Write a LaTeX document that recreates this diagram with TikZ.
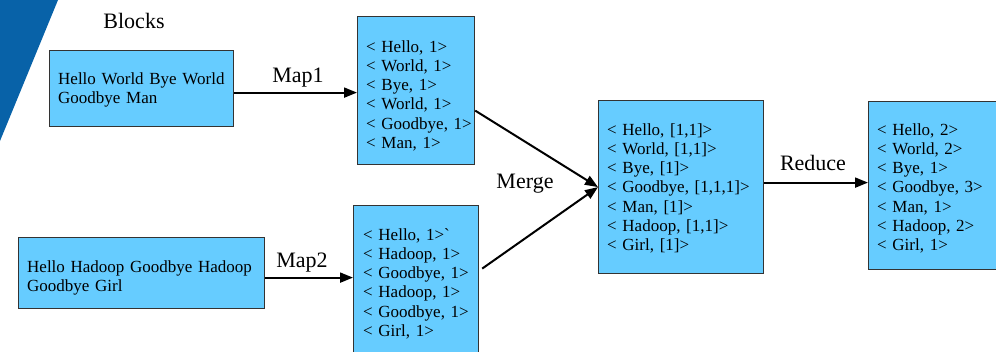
\documentclass[tikz,border=0pt]{standalone}
\usepackage{fontspec}
\setmainfont{Liberation Serif}
\usetikzlibrary{arrows.meta}
\definecolor{boxblue}{HTML}{66CCFF}
\definecolor{deco}{HTML}{0862A8}
\definecolor{edge}{HTML}{333333}
\tikzset{
  box/.style={draw=edge, line width=1.2pt, fill=boxblue, anchor=north west, inner sep=0pt},
  boxtext/.style={anchor=base west, inner sep=0pt, align=left, text width=300pt, font=\fontsize{17}{19.3}\selectfont},
  lbl/.style={font=\fontsize{22}{26}\selectfont, inner sep=0pt, anchor=base},
  arr/.style={line width=2pt, -{Triangle[length=13pt,width=10pt]}}
}
\begin{document}
\begin{tikzpicture}[x=1pt,y=-1pt]
\useasboundingbox (0,0) rectangle (996,351);
\clip (0,0) rectangle (996,351);
\fill[deco] (0,0) -- (58,0) -- (0,141) -- cycle;
% boxes
\node[box, minimum width=184pt, minimum height=76pt] (b1) at (49,50) {};
\node[box, minimum width=117pt, minimum height=148pt] (b2) at (357,16) {};
\node[box, minimum width=246pt, minimum height=71pt] (b3) at (18,237) {};
\node[box, minimum width=125pt, minimum height=160pt] (b4) at (353,205) {};
\node[box, minimum width=165pt, minimum height=173pt] (b5) at (598,100) {};
\node[box, minimum width=140pt, minimum height=168pt] (b6) at (868,101) {};
% texts
\node[boxtext] (t1) at (58,84) {Hello World Bye World\\Goodbye Man};
\node[boxtext] (t3) at (27,272) {Hello Hadoop Goodbye Hadoop\\Goodbye Girl};
\node[boxtext] (t2) at (366,52) {< Hello, 1>\\< World, 1>\\< Bye, 1>\\< World, 1>\\< Goodbye, 1>\\< Man, 1>};
\node[boxtext] (t4) at (363,240) {< Hello, 1>\textasciigrave\\< Hadoop, 1>\\< Goodbye, 1>\\< Hadoop, 1>\\< Goodbye, 1>\\< Girl, 1>};
\node[boxtext] (t5) at (607,135) {< Hello, [1,1]>\\< World, [1,1]>\\< Bye, [1]>\\< Goodbye, [1,1,1]>\\< Man, [1]>\\< Hadoop, [1,1]>\\< Girl, [1]>};
\node[boxtext] (t6) at (877,135) {< Hello, 2>\\< World, 2>\\< Bye, 1>\\< Goodbye, 3>\\< Man, 1>\\< Hadoop, 2>\\< Girl, 1>};
% labels
\node[lbl] (lblocks) at (134,28) {Blocks};
\node[lbl] (lmap1) at (298,82) {Map1};
\node[lbl] (lmap2) at (302,267) {Map2};
\node[lbl] (lmerge) at (525,188) {Merge};
\node[lbl] (lreduce) at (813,170) {Reduce};
% arrows
\draw[arr] ([yshift=-4pt]b1.east) -- ([yshift=-4pt]b1.east -| b2.west);
\draw[arr] ([yshift=-4.5pt]b3.east) -- ([yshift=-4.5pt]b3.east -| b4.west);
\draw[arr] ([yshift=-20pt]b2.east) -- (b5.west);
\draw[arr] ([xshift=3pt,yshift=17pt]b4.east) -- (b5.west);
\draw[arr] ([yshift=4.5pt]b5.east) -- ([yshift=4.5pt]b5.east -| b6.west);
\end{tikzpicture}
\end{document}
